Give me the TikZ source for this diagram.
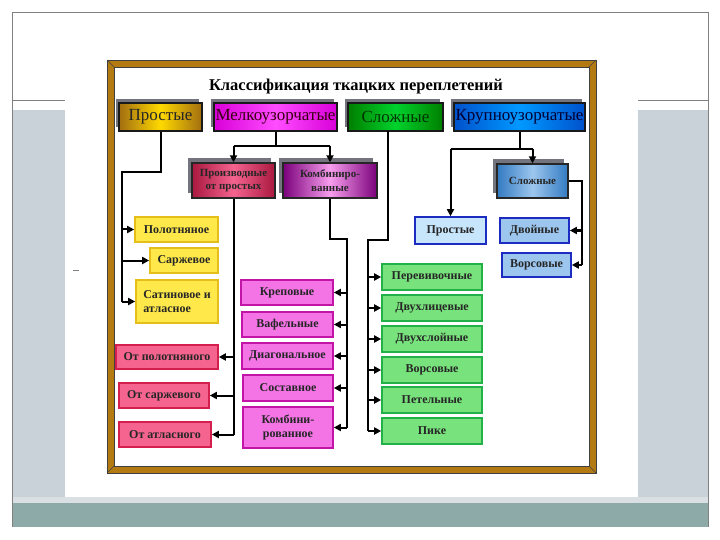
\documentclass[tikz,border=0pt]{standalone}
\usepackage{fontspec}
\setmainfont{Liberation Serif}
\usetikzlibrary{arrows.meta,shadows}
\definecolor{panel}{HTML}{C8D2D8}
\definecolor{strip}{HTML}{D9DFE3}
\definecolor{tealband}{HTML}{8DA9A8}
\definecolor{framebrown}{HTML}{B47A12}
\definecolor{shadowgray}{HTML}{74747E}
\definecolor{yfill}{HTML}{FFE94A}
\definecolor{ydraw}{HTML}{E6BE1A}
\definecolor{rfill}{HTML}{F4648F}
\definecolor{rdraw}{HTML}{D41E4E}
\definecolor{mfill}{HTML}{F474E6}
\definecolor{mdraw}{HTML}{C214A6}
\definecolor{gfill}{HTML}{78E27C}
\definecolor{gdraw}{HTML}{22B048}
\definecolor{lbfill}{HTML}{C8E6FB}
\definecolor{lbdraw}{HTML}{1C2CC0}
\definecolor{bdfill}{HTML}{9CC6EE}
\tikzset{
  hbox/.style={draw=black!90, line width=1.5pt, inner sep=0pt, minimum height=28pt,
    font=\fontsize{17}{19}\selectfont, text=black!85,
    general shadow={fill=shadowgray, shadow xshift=-3pt, shadow yshift=4pt}},
  pbox/.style={draw=black!85, line width=1.4pt, inner sep=0pt, minimum height=35pt,
    align=center, font=\fontsize{11}{13.5}\selectfont\bfseries, text=black!85,
    general shadow={fill=shadowgray, shadow xshift=-4pt, shadow yshift=5pt}},
  sbox/.style={line width=1.6pt, inner sep=0pt, minimum height=25pt, align=center,
    font=\fontsize{12}{14}\selectfont\bfseries, text=black!85},
  ybox/.style={sbox, draw=ydraw, fill=yfill},
  rbox/.style={sbox, draw=rdraw, fill=rfill},
  mbox/.style={sbox, draw=mdraw, fill=mfill},
  gbox/.style={sbox, draw=gdraw, fill=gfill, minimum width=100pt, minimum height=26pt},
  lbbox/.style={sbox, draw=lbdraw, fill=lbfill},
  dbbox/.style={sbox, draw=lbdraw, fill=bdfill},
  conn/.style={line width=2pt, black},
  arr/.style={conn, -{Triangle[length=7pt,width=7pt]}}
}
\begin{document}
\begin{tikzpicture}[x=1pt,y=-1pt]
% slide background
\fill[white] (0,0) rectangle (720,540);
\useasboundingbox (0,0) rectangle (720,540);
\fill[panel] (12,110) rectangle (65,497);
\fill[panel] (638,110) rectangle (708,500);
\fill[strip] (12,497) rectangle (708,503);
\fill[tealband] (12,503) rectangle (708,527);
\draw[gray, line width=0.8pt] (12,527) -- (12,12) -- (708,12) -- (708,527);
\draw[gray, line width=0.8pt] (12,100) -- (65,100);
\draw[gray, line width=0.8pt] (638,100) -- (708,100);
\draw[gray, line width=0.8pt] (73,270) -- (79,270);
% frame
\fill[framebrown] (107,60) rectangle (596,473);
\fill[white] (114,67) rectangle (589,466);
\draw[black!75, line width=0.6pt] (107,60) rectangle (596,473);
\draw[black!75, line width=0.6pt] (114,67) rectangle (589,466);
\draw[black!75, line width=0.6pt] (107,60) -- (114,67) (596,60) -- (589,67)
  (107,473) -- (114,466) (596,473) -- (589,466);
% title
\node[font=\fontsize{16.5}{18}\selectfont\bfseries] (title) at (356,87) {Классификация ткацких переплетений};
% header boxes
\node[hbox, minimum width=83pt, left color=framebrown!90!black, right color=framebrown!90!black, middle color=yellow!70!orange] (hA) at (160.5,117) {Простые};
\node[hbox, minimum width=123pt, left color=magenta!85!black, right color=magenta!85!black, middle color=magenta!70!white, text=black!70!purple] (hB) at (275.5,117) {Мелкоузорчатые};
\node[hbox, minimum width=95pt, left color=green!50!black, right color=green!50!black, middle color=green!65!teal, text=black!80!green] (hC) at (395.5,117) {Сложные};
\node[hbox, minimum width=131pt, left color=blue!60!cyan!80!black, right color=blue!60!cyan!80!black, middle color=blue!40!cyan, text=black!80!blue] (hD) at (519.5,117) {Крупноузорчатые};
% second level
\node[pbox, minimum width=83pt, left color=rdraw!80!black, right color=rdraw!80!black, middle color=rfill] (pA) at (233.5,180.5) {Производные\\от простых};
\node[pbox, minimum width=94pt, left color=violet!80!magenta!80!black, right color=violet!80!magenta!80!black, middle color=mfill!70!white] (pB) at (330,180.5) {Комбиниро-\\ванные};
\node[pbox, minimum width=71pt, minimum height=34pt, left color=blue!50!cyan!70!black!80, right color=blue!50!cyan!70!black!80, middle color=bdfill] (bS) at (532.5,181) {Сложные};
% yellow
\node[ybox, minimum width=83pt] (y1) at (176.5,229.5) {Полотняное};
\node[ybox, minimum width=68pt] (y2) at (184,260.5) {Саржевое};
\node[ybox, minimum width=82pt, minimum height=43pt, align=left] (y3) at (177,301.5) {Сатиновое и\\атласное};
% red
\node[rbox, minimum width=102pt, minimum height=24pt] (r1) at (167,357) {От полотняного};
\node[rbox, minimum width=90pt] (r2) at (164,395.5) {От саржевого};
\node[rbox, minimum width=92pt] (r3) at (165,434.5) {От атласного};
% magenta
\node[mbox, minimum width=92pt] (m1) at (287,292.5) {Креповые};
\node[mbox, minimum width=91pt] (m2) at (287.5,324.5) {Вафельные};
\node[mbox, minimum width=91pt, minimum height=26pt] (m3) at (287.5,356) {Диагональное};
\node[mbox, minimum width=90pt, minimum height=26pt] (m4) at (288,388) {Составное};
\node[mbox, minimum width=90pt, minimum height=41pt] (m5) at (288,427.5) {Комбини-\\рованное};
% green
\node[gbox] (g1) at (432,277) {Перевивочные};
\node[gbox] (g2) at (432,308) {Двухлицевые};
\node[gbox] (g3) at (432,339) {Двухслойные};
\node[gbox] (g4) at (432,370) {Ворсовые};
\node[gbox] (g5) at (432,400) {Петельные};
\node[gbox] (g6) at (432,431) {Пике};
% blue
\node[lbbox, minimum width=71pt, minimum height=27pt] (bP) at (450.5,230.5) {Простые};
\node[dbbox, minimum width=69pt] (bD) at (534.5,230.5) {Двойные};
\node[dbbox, minimum width=69pt, minimum height=24pt] (bV) at (536.5,265) {Ворсовые};
% connectors: Простые
\coordinate (jA) at (122,172);
\coordinate (jA2) at (122,301.5);
\draw[conn] (hA.south) |- (jA) -- (jA2);
\draw[arr] (jA |- y1.west) -- (y1.west);
\draw[arr] (jA |- y2.west) -- (y2.west);
\draw[arr] (jA2) -- (y3.west);
% Мелкоузорчатые
\coordinate (jB) at (275.5,146);
\draw[conn] (hB.south) -- (jB);
\draw[conn] (pA.north |- jB) -- (pB.north |- jB);
\draw[arr] (pA.north |- jB) -- (pA.north);
\draw[arr] (pB.north |- jB) -- (pB.north);
% Производные
\coordinate (jP) at (233.5,434.5);
\draw[conn] (pA.south) -- (jP);
\draw[arr] (jP |- r1.east) -- (r1.east);
\draw[arr] (jP |- r2.east) -- (r2.east);
\draw[arr] (jP) -- (r3.east);
% Комбинированные
\coordinate (jK1) at (330,239);
\coordinate (jK2) at (347,239);
\coordinate (jK3) at (347,427.5);
\draw[conn] (pB.south) -- (jK1) -- (jK2) -- (jK3);
\foreach \m in {m1,m2,m3,m4} \draw[arr] (jK2 |- \m.east) -- (\m.east);
\draw[arr] (jK3) -- (m5.east);
% Сложные
\coordinate (jC0) at (388,131);
\coordinate (jC1) at (388,240);
\coordinate (jC2) at (368,240);
\coordinate (jC3) at (368,431);
\draw[conn] (jC0) -- (jC1) -- (jC2) -- (jC3);
\foreach \g in {g1,g2,g3,g4,g5} \draw[arr] (jC2 |- \g.west) -- (\g.west);
\draw[arr] (jC3) -- (g6.west);
% Крупноузорчатые
\coordinate (jD) at (519.5,149);
\draw[conn] (hD.south) -- (jD);
\draw[conn] (bP.north |- jD) -- (bS.north |- jD);
\draw[arr] (bP.north |- jD) -- (bP.north);
\draw[arr] (bS.north |- jD) -- (bS.north);
% Сложные (blue)
\coordinate (jS1) at (582,181);
\coordinate (jS2) at (582,265);
\draw[conn] (bS.east) -- (jS1) -- (jS2);
\draw[arr] (jS1 |- bD.east) -- (bD.east);
\draw[arr] (jS2) -- (bV.east);
\end{tikzpicture}
\end{document}
